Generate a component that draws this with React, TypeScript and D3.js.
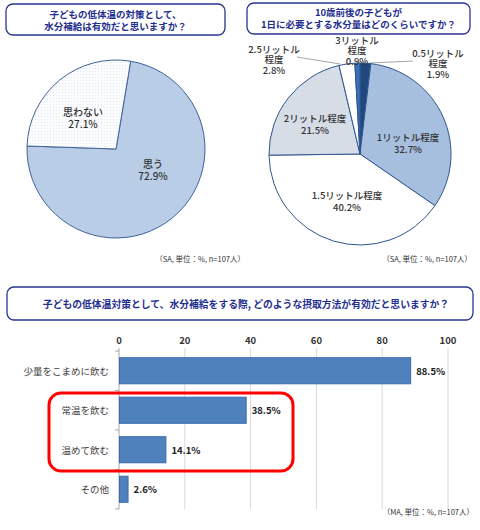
import { useEffect, useRef } from 'react';
import * as d3 from 'd3';

// left pie: 子どもの低体温の対策として、水分補給は有効だと思いますか？
const effectLabels = ['思う', '思わない'];
const effectValues = [72.9, 27.1];

// right pie: 1日に必要とする水分量
const amountLabels = ['0.5リットル程度', '1リットル程度', '1.5リットル程度', '2リットル程度', '2.5リットル程度', '3リットル程度'];
const amountValues = [1.9, 32.7, 40.2, 21.5, 2.8, 0.9];

// bar chart: 摂取方法
const methodLabels = ['少量をこまめに飲む', '常温を飲む', '温めて飲む', 'その他'];
const methodValues = [88.5, 38.5, 14.1, 2.6];
const xTicks = [0, 20, 40, 60, 80, 100];

const FONT = '"Noto Sans CJK JP", "Noto Sans", sans-serif';
const NAVY = '#1f2f8f';

const App = () => {
  const ref = useRef<SVGSVGElement | null>(null);

  useEffect(() => {
    if (!ref.current) return;
    const svg = d3.select(ref.current);
    svg.selectAll('*').remove();
    svg.attr('viewBox', '0 0 480 530').style('font-family', FONT);

    svg.append('rect').attr('width', 480).attr('height', 530).attr('fill', '#fff');

    const defs = svg.append('defs');
    const pat = defs
      .append('pattern')
      .attr('id', 'dots')
      .attr('width', 3)
      .attr('height', 3)
      .attr('patternUnits', 'userSpaceOnUse');
    pat.append('rect').attr('width', 3).attr('height', 3).attr('fill', '#fbfcfe');
    pat.append('rect').attr('width', 1).attr('height', 1).attr('fill', '#e3e7ee');

    const titleBox = (x: number, y: number, w: number, h: number, lines: string[], lineYs: number[]) => {
      svg
        .append('rect')
        .attr('x', x)
        .attr('y', y)
        .attr('width', w)
        .attr('height', h)
        .attr('rx', 7)
        .attr('fill', '#fff')
        .attr('stroke', '#2b3590')
        .attr('stroke-width', 1.3);
      lines.forEach((line, i) => {
        svg
          .append('text')
          .attr('x', x + w / 2)
          .attr('y', lineYs[i])
          .attr('text-anchor', 'middle')
          .attr('dominant-baseline', 'central')
          .attr('font-size', 9.5)
          .attr('font-weight', 'bold')
          .attr('fill', NAVY)
          .text(line);
      });
    };

    const note = (x: number, y: number, txt: string) => {
      svg
        .append('text')
        .attr('x', x)
        .attr('y', y)
        .attr('text-anchor', 'end')
        .attr('dominant-baseline', 'central')
        .attr('font-size', 7.5)
        .attr('fill', '#333')
        .text(txt);
    };

    // lines centred vertically on (x, y)
    const multiText = (x: number, y: number, lines: string[], size: number, lh: number) => {
      const t = svg
        .append('text')
        .attr('text-anchor', 'middle')
        .attr('font-size', size)
        .attr('fill', '#333')
        .attr('font-weight', 500);
      const top = y - ((lines.length - 1) * lh) / 2;
      lines.forEach((l, i) => {
        t.append('tspan').attr('x', x).attr('y', top + i * lh).attr('dominant-baseline', 'central').text(l);
      });
    };

    // ---------- left pie ----------
    titleBox(6, 4, 219, 31, ['子どもの低体温の対策として、', '水分補給は有効だと思いますか？'], [14, 26]);
    {
      const cx = 116;
      const cy = 149;
      const r = 89;
      const start = (9.5 * Math.PI) / 180;
      const pie = d3
        .pie<number>()
        .sort(null)
        .startAngle(start)
        .endAngle(start + Math.PI * 2);
      const arc = d3.arc<d3.PieArcDatum<number>>().innerRadius(0).outerRadius(r);
      const g = svg.append('g').attr('transform', `translate(${cx},${cy})`);
      const fills = ['#b9cde6', 'url(#dots)'];
      const arcs = pie(effectValues);
      g.selectAll('path')
        .data(arcs)
        .enter()
        .append('path')
        .attr('d', arc)
        .attr('fill', (_, i) => fills[i])
        .attr('stroke', '#3f6299')
        .attr('stroke-width', 1);
      const labelPos = [
        [37, 20],
        [-33, -32],
      ];
      arcs.forEach((a, i) => {
        multiText(cx + labelPos[i][0], cy + labelPos[i][1], [effectLabels[i], `${a.data}%`], 10, 12);
      });
    }
    note(245, 258, '（SA, 単位：%, n=107人）');

    // ---------- right pie ----------
    titleBox(247, 3, 223, 31, ['10歳前後の子どもが', '1日に必要とする水分量はどのくらいですか？'], [12, 24]);
    {
      const cx = 360;
      const cy = 154;
      const r = 91;
      const pie = d3.pie<number>().sort(null);
      const arc = d3.arc<d3.PieArcDatum<number>>().innerRadius(0).outerRadius(r);
      const g = svg.append('g').attr('transform', `translate(${cx},${cy})`);
      const fills = ['#1f497d', '#a7bfdf', '#ffffff', '#d6dde7', '#ffffff', '#3c70b8'];
      const arcs = pie(amountValues);

      // leader lines for the small outside-labelled slices
      const leaders: [number, number, number][] = [
        [0, 10, -91],
        [0, 53, -93],
        [4, -20, -90],
        [4, -63, -97],
      ];
      for (let k = 0; k < leaders.length; k += 2) {
        const a = leaders[k];
        const b = leaders[k + 1];
        g.append('line')
          .attr('x1', a[1])
          .attr('y1', a[2])
          .attr('x2', b[1])
          .attr('y2', b[2])
          .attr('stroke', '#a6a6a6')
          .attr('stroke-width', 1);
      }

      g.selectAll('path')
        .data(arcs)
        .enter()
        .append('path')
        .attr('d', arc)
        .attr('fill', (_, i) => fills[i])
        .attr('stroke', '#2f558f')
        .attr('stroke-width', 1);

      const labelLines = (i: number): string[] => {
        const name = amountLabels[i];
        const v = `${amountValues[i]}%`;
        if (i === 0 || i === 4 || i === 5) return [name.replace('程度', ''), '程度', v];
        return [name, v];
      };
      const labelPos = [
        [78, -91],
        [48, -11],
        [-13, 47],
        [-45, -30],
        [-86, -95],
        [-3, -104],
      ];
      arcs.forEach((_, i) => {
        const lines = labelLines(i);
        multiText(cx + labelPos[i][0], cy + labelPos[i][1], lines, 9.5, lines.length === 3 ? 10.5 : 11.5);
      });
    }
    note(472, 258, '（SA, 単位：%, n=107人）');

    // ---------- bar chart ----------
    svg
      .append('rect')
      .attr('x', 7)
      .attr('y', 287)
      .attr('width', 466)
      .attr('height', 33)
      .attr('rx', 7)
      .attr('fill', '#fff')
      .attr('stroke', '#2b3590')
      .attr('stroke-width', 1.3);
    svg
      .append('text')
      .attr('x', 246)
      .attr('y', 304)
      .attr('text-anchor', 'middle')
      .attr('dominant-baseline', 'central')
      .attr('font-size', 9.8)
      .attr('font-weight', 'bold')
      .attr('fill', NAVY)
      .text('子どもの低体温対策として、水分補給をする際, どのような摂取方法が有効だと思いますか？');

    const margin = { top: 351, left: 119 };
    const innerW = 329;
    const innerH = 158;
    const x = d3.scaleLinear().domain([0, 100]).range([0, innerW]);
    const y = d3.scaleBand().domain(methodLabels).range([0, innerH]).paddingInner(0.34).paddingOuter(0.17);
    const g = svg.append('g').attr('transform', `translate(${margin.left},${margin.top})`);

    // grid
    g.selectAll('line.grid')
      .data(xTicks.slice(1))
      .enter()
      .append('line')
      .attr('x1', (d) => x(d))
      .attr('x2', (d) => x(d))
      .attr('y1', -3)
      .attr('y2', innerH)
      .attr('stroke', '#d9d9d9')
      .attr('stroke-width', 1);

    // top tick labels
    g.selectAll('text.tick')
      .data(xTicks)
      .enter()
      .append('text')
      .attr('x', (d) => x(d))
      .attr('y', -11)
      .attr('text-anchor', 'middle')
      .attr('dominant-baseline', 'central')
      .attr('font-size', 9.5)
      .attr('font-weight', 'bold')
      .attr('fill', '#333')
      .text((d) => d);

    // left axis
    g.append('line').attr('x1', 0).attr('x2', 0).attr('y1', -3).attr('y2', innerH).attr('stroke', '#a6a6a6');
    const step = innerH / methodLabels.length;
    g.selectAll('line.ytick')
      .data(d3.range(methodLabels.length + 1))
      .enter()
      .append('line')
      .attr('x1', -4)
      .attr('x2', 0)
      .attr('y1', (d) => d * step)
      .attr('y2', (d) => d * step)
      .attr('stroke', '#a6a6a6');

    g.selectAll('rect.bar')
      .data(methodValues)
      .enter()
      .append('rect')
      .attr('x', 0.5)
      .attr('y', (_, i) => y(methodLabels[i]) ?? 0)
      .attr('width', (d) => x(d))
      .attr('height', y.bandwidth())
      .attr('fill', '#4f81bd')
      .attr('stroke', '#3a6ab0')
      .attr('stroke-width', 1);

    g.selectAll('text.val')
      .data(methodValues)
      .enter()
      .append('text')
      .attr('x', (d) => x(d) + 6)
      .attr('y', (_, i) => (y(methodLabels[i]) ?? 0) + y.bandwidth() / 2)
      .attr('dominant-baseline', 'central')
      .attr('font-size', 9.5)
      .attr('font-weight', 'bold')
      .attr('fill', '#222')
      .text((d) => `${d}%`);

    g.selectAll('text.cat')
      .data(methodLabels)
      .enter()
      .append('text')
      .attr('x', -10)
      .attr('y', (d) => (y(d) ?? 0) + y.bandwidth() / 2)
      .attr('text-anchor', 'end')
      .attr('dominant-baseline', 'central')
      .attr('font-size', 9.5)
      .attr('fill', '#404040')
      .text((d) => d);

    // highlight box
    svg
      .append('rect')
      .attr('x', 49)
      .attr('y', 393)
      .attr('width', 244)
      .attr('height', 78)
      .attr('rx', 12)
      .attr('fill', 'none')
      .attr('stroke', '#ff0000')
      .attr('stroke-width', 3);

    note(474, 511, '（MA, 単位：%, n=107人）');
  }, []);

  return (
    <svg
      ref={ref}
      width={480}
      height={530}
      style={{ position: 'absolute', left: 0, top: 0, display: 'block' }}
      role="img"
      aria-label="子どもの低体温対策と水分補給"
    />
  );
};

export default App;
